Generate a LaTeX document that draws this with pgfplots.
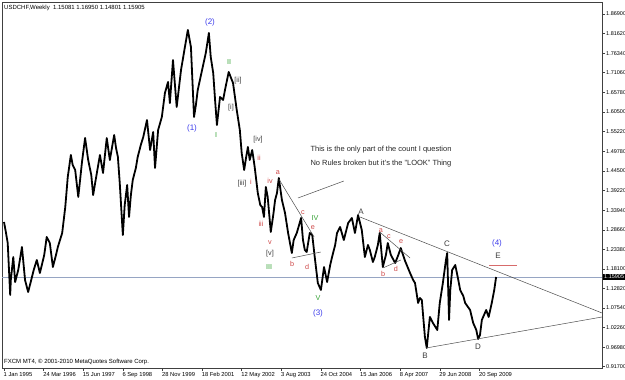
\documentclass[border=0pt]{standalone}
\usepackage{pgfplots}
\pgfplotsset{compat=1.18}
\usepackage{pgfplotstable}
\usepackage{fontspec}
\setmainfont{Liberation Sans}
\definecolor{wblue}{RGB}{60,60,235}
\definecolor{wgreen}{RGB}{50,160,50}
\definecolor{wred}{RGB}{205,70,70}
\definecolor{wgray}{RGB}{60,60,60}
\definecolor{hline}{RGB}{150,165,195}
\pgfplotstableread{
w p
0 1.3076
3 1.2806
6 1.2509
10 1.1106
11 1.1510
15 1.2131
18 1.1456
23 1.1780
29 1.2401
34 1.1510
39 1.1186
44 1.1510
48 1.1780
53 1.2050
58 1.1699
65 1.2185
69 1.2671
74 1.2509
79 1.1861
84 1.2185
87 1.2401
94 1.2779
99 1.3481
103 1.4290
108 1.4884
111 1.4614
115 1.4479
120 1.3751
126 1.4695
131 1.5343
136 1.4749
141 1.4344
144 1.3805
150 1.4398
155 1.4884
160 1.4398
166 1.5343
171 1.4749
178 1.5424
181 1.5073
184 1.4830
187 1.4129
192 1.2725
195 1.3535
199 1.4075
202 1.3211
205 1.3805
208 1.4209
213 1.4533
216 1.4830
221 1.5154
225 1.5370
231 1.5829
236 1.5019
241 1.5505
244 1.4533
249 1.5559
255 1.5910
260 1.6558
265 1.6855
268 1.6288
273 1.7448
279 1.6180
286 1.7179
292 1.7772
297 1.8258
302 1.7799
307 1.5910
310 1.6234
313 1.6639
320 1.7179
326 1.7637
331 1.8177
334 1.7529
338 1.7098
341 1.6369
344 1.5694
349 1.6450
354 1.6369
357 1.6639
363 1.7125
370 1.6828
376 1.6099
381 1.5559
384 1.4938
388 1.4479
391 1.4803
394 1.5100
397 1.4749
401 1.5019
405 1.4560
410 1.3859
414 1.3535
417 1.3481
420 1.3211
423 1.4021
426 1.3751
431 1.2806
435 1.3265
438 1.3670
441 1.3859
444 1.4263
449 1.3670
454 1.3319
459 1.2779
465 1.2239
468 1.2590
473 1.2779
480 1.3184
483 1.2590
486 1.2320
489 1.2266
494 1.2779
498 1.2725
502 1.2131
507 1.1429
512 1.1240
517 1.1861
522 1.1456
527 1.1915
530 1.2131
535 1.2455
538 1.2779
543 1.2941
549 1.2590
556 1.3049
562 1.3184
567 1.2779
572 1.3265
578 1.2860
583 1.2131
588 1.2455
591 1.2320
596 1.1996
599 1.2131
604 1.2455
607 1.2779
612 1.1861
617 1.2185
620 1.2509
625 1.2185
632 1.1969
637 1.2185
641 1.2374
648 1.2023
656 1.1699
661 1.1510
664 1.1429
669 1.0890
672 1.1025
675 1.0971
680 0.9972
683 0.9675
688 1.0512
693 1.0350
700 1.0161
704 1.0890
709 1.1429
714 1.2050
716 1.2239
719 1.0431
721 1.1240
724 1.1780
729 1.1915
733 1.1591
737 1.1240
742 1.1078
745 1.0890
753 1.0701
758 1.0350
763 1.0161
766 0.9918
769 1.0026
772 1.0431
779 1.0701
783 1.0512
788 1.0890
792 1.1240
795 1.1591
}\price
\begin{document}
\begin{tikzpicture}[font=\fontsize{6}{7}\selectfont]
\begin{axis}[at={(0pt,0pt)}, anchor=south west, scale only axis,
  width=600pt, height=366pt,
  xmin=-3.23, xmax=966.1, ymin=0.9135, ymax=1.9014,
  axis line style={draw=black!75, line width=0.6pt},
  xtick={0,64,128,192,256,320,384,448,512,576,640,704,768},
  xticklabels={1 Jan 1995,24 Mar 1996,15 Jun 1997,6 Sep 1998,28 Nov 1999,18 Feb 2001,12 May 2002,3 Aug 2003,24 Oct 2004,15 Jan 2006,8 Apr 2007,29 Jun 2008,20 Sep 2009},
  xtick pos=left, ytick pos=right, yticklabel pos=right,
  tick align=outside, major tick length=3pt,
  tick style={black!75, line width=0.5pt},
  xticklabel style={anchor=north west, inner sep=1pt, xshift=-1.5pt, font=\fontsize{5.8}{6}\selectfont},
  ytick={1.869,1.8162,1.7634,1.7106,1.6578,1.605,1.5522,1.4978,1.445,1.3922,1.3394,1.2866,1.2338,1.181,1.1282,1.0754,1.0226,0.9698,0.917},
  yticklabels={1.86900,1.81620,1.76340,1.71060,1.65780,1.60500,1.55220,1.49780,1.44500,1.39220,1.33940,1.28660,1.23380,1.18100,1.12820,1.07540,1.02260,0.96980,0.91700},
  yticklabel style={anchor=west, inner sep=1pt, font=\fontsize{5.5}{6}\selectfont},
  clip=false,
]
\addplot[hline, line width=0.6pt] coordinates {(-3.23,1.15905) (966.1,1.15905)};
\addplot[black, line width=1.8pt, line join=round] table[x=w,y=p] {\price};
% trend lines
\addplot[black!70, line width=0.5pt] coordinates {(475,1.3724) (549,1.4182)};
\addplot[black!70, line width=0.5pt] coordinates {(444,1.4236) (501,1.2671)};
\addplot[black!70, line width=0.5pt] coordinates {(465,1.2104) (512,1.2266)};
\addplot[black!70, line width=0.5pt] coordinates {(575,1.3211) (966.1,1.0620)};
\addplot[black!70, line width=0.5pt] coordinates {(682,0.9675) (966.1,1.0512)};
\addplot[black!70, line width=0.5pt] coordinates {(607,1.2806) (656,1.2104)};
\addplot[black!70, line width=0.5pt] coordinates {(612,1.1834) (641,1.2050)};
\addplot[wred!80, line width=0.8pt] coordinates {(784,1.1915) (829,1.1915)};
\node[fill=black, text=white, anchor=west, inner sep=1pt, xshift=1pt, font=\fontsize{5.5}{6}\selectfont] at (axis cs:966.1,1.15905) {1.15905};
\end{axis}
\node[anchor=west, inner sep=0pt] at (2pt,360pt) {USDCHF,Weekly\ \ 1.15081 1.16950 1.14801 1.15905};
\node[anchor=west, inner sep=0pt] at (2pt,6pt) {FXCM MT4, \textcopyright\ 2001-2010 MetaQuotes Software Corp.};
\begin{scope}[font=\fontsize{7.2}{8}\selectfont]
\node[anchor=west, text=black!85, font=\fontsize{7.5}{8}\selectfont] at (305pt,218pt) {This is the only part of the count I question};
\node[anchor=west, text=black!85, font=\fontsize{7.5}{8}\selectfont] at (305pt,204pt) {No Rules broken but it\char"0027 s the "LOOK" Thing};
% blue
\node[text=wblue, font=\fontsize{8}{9}\selectfont] at (208pt,346pt) {(2)};
\node[text=wblue, font=\fontsize{8}{9}\selectfont] at (190pt,240pt) {(1)};
\node[text=wblue, font=\fontsize{8}{9}\selectfont] at (316pt,55pt) {(3)};
\node[text=wblue, font=\fontsize{8}{9}\selectfont] at (495pt,125pt) {(4)};
% green
\node[text=wgreen] at (227pt,306pt) {II};
\node[text=wgreen] at (214pt,233pt) {I};
\node[text=wgreen] at (267pt,101pt) {III};
\node[text=wgreen] at (313pt,150pt) {IV};
\node[text=wgreen] at (316pt,70pt) {V};
% gray bracket
\node[text=wgray] at (236pt,287pt) {[ii]};
\node[text=wgray] at (229pt,260pt) {[i]};
\node[text=wgray] at (256pt,228pt) {[iv]};
\node[text=wgray] at (240pt,184pt) {[iii]};
\node[text=wgray] at (268pt,114pt) {[v]};
% red
\node[text=wred] at (257pt,210pt) {ii};
\node[text=wred] at (249pt,186pt) {i};
\node[text=wred] at (268pt,187pt) {iv};
\node[text=wred] at (276pt,195pt) {a};
\node[text=wred] at (259pt,144pt) {iii};
\node[text=wred] at (268pt,125pt) {v};
\node[text=wred] at (290pt,104pt) {b};
\node[text=wred] at (305pt,101pt) {d};
\node[text=wred] at (301pt,155pt) {c};
\node[text=wred] at (311pt,140pt) {e};
\node[text=wred] at (379pt,137pt) {a};
\node[text=wred] at (387pt,131pt) {c};
\node[text=wred] at (399pt,126pt) {e};
\node[text=wred] at (381pt,94pt) {b};
\node[text=wred] at (394pt,99pt) {d};
% gray caps
\node[text=wgray, font=\fontsize{8}{9}\selectfont] at (359pt,156pt) {A};
\node[text=wgray, font=\fontsize{8}{9}\selectfont] at (445pt,124pt) {C};
\node[text=wgray, font=\fontsize{8}{9}\selectfont] at (496pt,112pt) {E};
\node[text=wgray, font=\fontsize{8}{9}\selectfont] at (423pt,12pt) {B};
\node[text=wgray, font=\fontsize{8}{9}\selectfont] at (476pt,21pt) {D};
\end{scope}
\pgfresetboundingbox
\path (-2pt,-12pt) rectangle (623pt,368pt);
\end{tikzpicture}
\end{document}
